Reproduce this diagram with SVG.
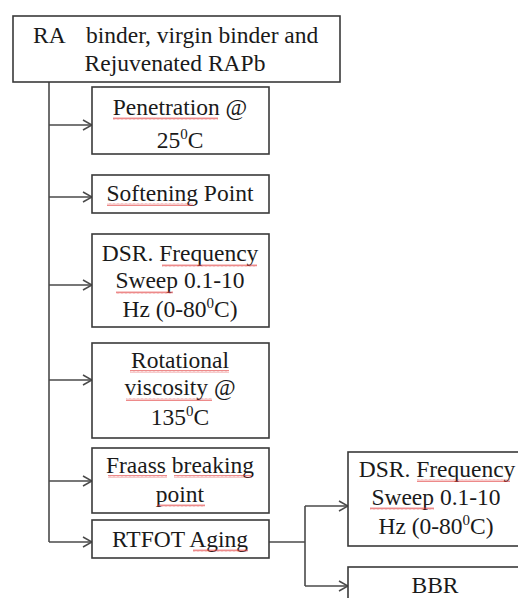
<svg xmlns="http://www.w3.org/2000/svg" width="518" height="598" viewBox="0 0 518 598">
  <style>
    .box { fill: #ffffff; stroke: #3a3a3a; stroke-width: 1.6; }
    .wire { fill: none; stroke: #4a4a4a; stroke-width: 1.6; }
    .lbl { font-family: "Liberation Serif", "Times New Roman", serif; font-size: 23.5px; fill: #1a1a1a; text-anchor: middle; }
    .start { text-anchor: start; }
    .sup { font-size: 15px; }
    .spell { fill: url(#squiggle); }
  </style>
  <defs>
    <marker id="arrow" viewBox="0 0 12 12" refX="11" refY="6" markerWidth="12" markerHeight="12" markerUnits="userSpaceOnUse" orient="auto">
      <polyline points="2,1 11,6 2,11" fill="none" stroke="#4a4a4a" stroke-width="1.5"/>
    </marker>
    <pattern id="squiggle" width="4" height="3" patternUnits="userSpaceOnUse">
      <polyline points="0,2.5 1,0.5 2,2.5 3,0.5 4,2.5" fill="none" stroke="#e03a3a" stroke-width="0.6"/>
    </pattern>
  </defs>

  <!-- connectors -->
  <g id="connectors">
    <line class="wire" x1="49" y1="82" x2="49" y2="542"/>
    <line class="wire" x1="49" y1="125" x2="92" y2="125" marker-end="url(#arrow)"/>
    <line class="wire" x1="49" y1="197" x2="92" y2="197" marker-end="url(#arrow)"/>
    <line class="wire" x1="49" y1="285" x2="92" y2="285" marker-end="url(#arrow)"/>
    <line class="wire" x1="49" y1="380" x2="92" y2="380" marker-end="url(#arrow)"/>
    <line class="wire" x1="49" y1="481" x2="92" y2="481" marker-end="url(#arrow)"/>
    <line class="wire" x1="49" y1="542" x2="92" y2="542" marker-end="url(#arrow)"/>
    <line class="wire" x1="269" y1="542" x2="305" y2="542"/>
    <line class="wire" x1="305" y1="506" x2="305" y2="586"/>
    <line class="wire" x1="305" y1="506" x2="348" y2="506" marker-end="url(#arrow)"/>
    <line class="wire" x1="305" y1="586" x2="348" y2="586" marker-end="url(#arrow)"/>
  </g>

  <!-- root -->
  <g id="root">
    <rect class="box" x="13" y="16" width="327" height="66"/>
    <text class="lbl start" x="33" y="43">RA</text>
    <text class="lbl start" x="86" y="43">binder, virgin binder and</text>
    <text class="lbl" x="175" y="71">Rejuvenated RAPb</text>
  </g>

  <g id="penetration">
    <rect class="box" x="92" y="87" width="177" height="67"/>
    <text class="lbl" x="180" y="115">Penetration @</text>
    <text class="lbl" x="180" y="148">25<tspan class="sup" dy="-9">0</tspan><tspan dy="9">C</tspan></text>
    <rect class="spell" x="113" y="117" width="105" height="3"/>
  </g>

  <g id="softening">
    <rect class="box" x="92" y="175" width="177" height="38"/>
    <text class="lbl" x="180" y="201">Softening Point</text>
    <rect class="spell" x="107" y="203" width="86" height="3"/>
  </g>

  <g id="dsr-sweep">
    <rect class="box" x="92" y="234" width="177" height="93"/>
    <text class="lbl" x="180" y="261">DSR. Frequency</text>
    <text class="lbl" x="180" y="288">Sweep 0.1-10</text>
    <text class="lbl" x="180" y="317">Hz (0-80<tspan class="sup" dy="-9">0</tspan><tspan dy="9">C)</tspan></text>
    <rect class="spell" x="162" y="264" width="95" height="3"/>
    <rect class="spell" x="116" y="291" width="57" height="3"/>
  </g>

  <g id="rotational">
    <rect class="box" x="92" y="343" width="177" height="95"/>
    <text class="lbl" x="180" y="368">Rotational</text>
    <text class="lbl" x="180" y="395">viscosity @</text>
    <text class="lbl" x="180" y="425">135<tspan class="sup" dy="-9">0</tspan><tspan dy="9">C</tspan></text>
    <rect class="spell" x="130" y="370" width="99" height="3"/>
    <rect class="spell" x="126" y="398" width="86" height="3"/>
  </g>

  <g id="fraass">
    <rect class="box" x="92" y="448" width="177" height="65"/>
    <text class="lbl" x="180" y="473">Fraass breaking</text>
    <text class="lbl" x="180" y="502">point</text>
    <rect class="spell" x="108" y="475" width="59" height="3"/>
    <rect class="spell" x="174" y="475" width="78" height="3"/>
    <rect class="spell" x="157" y="504" width="48" height="3"/>
  </g>

  <g id="rtfot">
    <rect class="box" x="92" y="520" width="177" height="38"/>
    <text class="lbl" x="180" y="547">RTFOT Aging</text>
    <rect class="spell" x="193" y="549" width="55" height="3"/>
  </g>

  <g id="aged-dsr">
    <rect class="box" x="348" y="452" width="172" height="94"/>
    <text class="lbl" x="437" y="477">DSR. Frequency</text>
    <text class="lbl" x="436" y="505">Sweep 0.1-10</text>
    <text class="lbl" x="436" y="534">Hz (0-80<tspan class="sup" dy="-9">0</tspan><tspan dy="9">C)</tspan></text>
    <rect class="spell" x="417" y="479" width="93" height="3"/>
    <rect class="spell" x="370" y="507" width="64" height="3"/>
  </g>

  <g id="bbr">
    <rect class="box" x="348" y="567" width="172" height="40"/>
    <text class="lbl" x="435" y="593">BBR</text>
  </g>
</svg>
